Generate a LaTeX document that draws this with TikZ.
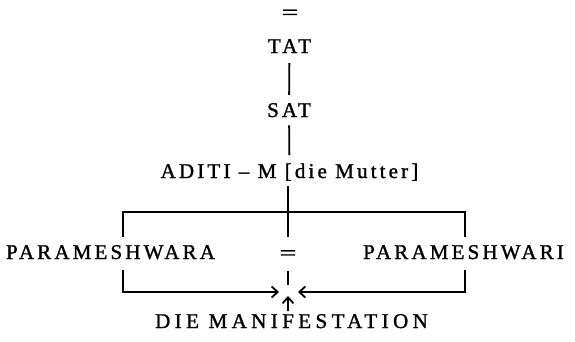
\documentclass[tikz,border=0pt]{standalone}
\usepackage{fontspec}
\setmainfont{Liberation Serif}
\newfontfamily\spacedfont[LetterSpace=15,FakeBold=1.3]{Liberation Serif}
\newfontfamily\widefont[LetterSpace=21,FakeBold=1.3]{Liberation Serif}
\usetikzlibrary{arrows.meta}
\tikzset{
  lbl/.style={inner sep=0pt, anchor=base, font=\fontsize{21}{25}\spacedfont},
  eqs/.style={inner sep=0pt, anchor=center, font=\fontsize{21}{25}\spacedfont},
  ln/.style={line width=1.8pt},
  arr/.style={line width=1.8pt, -{Straight Barb[length=6pt,width=11pt]}}
}
\newcommand{\wideeq}{\scalebox{1.4}[1.0]{=}}
\begin{document}
\begin{tikzpicture}[x=1pt,y=-1pt]
\useasboundingbox (0,0) rectangle (575,341);
% texts
\node[eqs] (eqtop) at (290,14.5) {\wideeq};
\node[lbl] (tat) at (289.5,53) {TAT};
\node[lbl] (sat) at (289,117) {SAT};
\node[lbl] (aditi) at (289.5,178) {ADITI – M [die Mutter]};
\node[lbl] (pl) at (110.5,259) {PARAMESHWARA};
\node[lbl] (pr) at (463.5,259) {PARAMESHWARI};
\node[eqs] (meq) at (288,255) {\wideeq};
\node[lbl, font=\fontsize{21}{25}\widefont] (die) at (291.5,328) {DIE MANIFESTATION};
% coordinates
\coordinate (j) at (288,212);
\coordinate (jd) at (288,237);
\coordinate (lt) at (123,212);
\coordinate (rt) at (465,212);
\coordinate (ltd) at (123,237);
\coordinate (rtd) at (465,237);
\coordinate (lbu) at (123,270);
\coordinate (rbu) at (465,270);
\coordinate (lb) at (123,292);
\coordinate (rb) at (465,292);
\coordinate (al) at (279,292);
\coordinate (ar) at (298,292);
\coordinate (m) at (288,285);
\coordinate (au) at (288,296);
% connectors
\draw[ln, shorten <=10pt, shorten >=8pt] (tat) -- (sat);
\draw[ln, shorten <=8pt, shorten >=8pt] (sat) -- (aditi);
\draw[ln, shorten <=5pt] (j |- aditi.south) -- (jd);
\draw[ln] (ltd) -- (lt) -- (rt) -- (rtd);
\draw[ln, shorten <=11pt] (meq) -- (m);
\draw[arr] (lbu) -- (lb) -- (al);
\draw[arr] (rbu) -- (rb) -- (ar);
\draw[arr, shorten <=3pt] (die.north -| au) -- (au);
\end{tikzpicture}
\end{document}
